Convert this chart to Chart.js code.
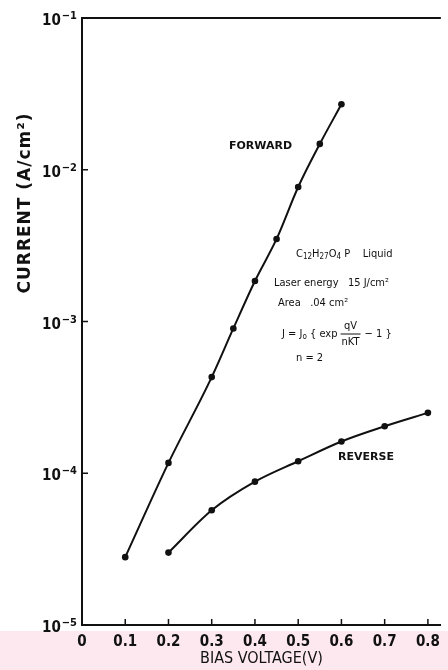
<!DOCTYPE html>
<html>
<head>
<meta charset="utf-8">
<script src="https://cdn.jsdelivr.net/npm/chart.js@4/dist/chart.umd.min.js"></script>
<style>
  html, body { margin: 0; padding: 0; background: #ffffff; }
  #wrap { position: relative; width: 448px; height: 670px; }
  canvas { display: block; }
</style>
</head>
<body>
<div id="wrap"><canvas id="iv" width="448" height="670"></canvas></div>
<script>
// Forward-bias branch: voltage (V) and current density (A/cm^2)
const voltageForward = [0.1, 0.2, 0.3, 0.35, 0.4, 0.45, 0.5, 0.55, 0.6];
const currentForward = [2.8e-5, 1.17e-4, 4.3e-4, 9.0e-4, 1.85e-3, 3.5e-3, 7.7e-3, 1.48e-2, 2.7e-2];

// Reverse-bias branch
const voltageReverse = [0.2, 0.3, 0.4, 0.5, 0.6, 0.7, 0.8];
const currentReverse = [3.0e-5, 5.7e-5, 8.8e-5, 1.2e-4, 1.62e-4, 2.04e-4, 2.5e-4];

// Axis ticks
const voltageTicks = [0, 0.1, 0.2, 0.3, 0.4, 0.5, 0.6, 0.7, 0.8];
const voltageTickLabels = ['0', '0.1', '0.2', '0.3', '0.4', '0.5', '0.6', '0.7', '0.8'];
const currentTicks = [1e-5, 1e-4, 1e-3, 1e-2, 1e-1];
const currentTickExponents = ['-5', '-4', '-3', '-2', '-1'];

const pairs = (xs, ys) => xs.map((x, i) => ({ x: x, y: ys[i] }));

const INK = '#111111';
const LABEL_FONT = "'DejaVu Sans Condensed', 'Liberation Sans Narrow', 'DejaVu Sans', sans-serif";

// Pale band under the plot, frame line, inward ticks, power-of-ten labels, y title
const framePlugin = {
  id: 'frame',
  beforeDraw(chart) {
    const { ctx, width, height } = chart;
    ctx.save();
    ctx.fillStyle = '#fce8ee';
    ctx.fillRect(0, 631, width, height - 631);
    ctx.restore();
  },
  afterDraw(chart) {
    const { ctx, chartArea } = chart;
    const xs = chart.scales.x, ys = chart.scales.y;
    ctx.save();
    ctx.strokeStyle = INK;
    ctx.lineWidth = 2;
    ctx.beginPath();
    ctx.moveTo(chartArea.left - 1, chartArea.top);
    ctx.lineTo(chartArea.right, chartArea.top);
    ctx.stroke();

    ctx.lineWidth = 1.5;
    voltageTicks.forEach(v => {
      if (v === 0) return;
      const px = xs.getPixelForValue(v);
      ctx.beginPath();
      ctx.moveTo(px, chartArea.bottom);
      ctx.lineTo(px, chartArea.bottom - 6);
      ctx.stroke();
    });
    currentTicks.forEach((v, i) => {
      const py = ys.getPixelForValue(v);
      ctx.beginPath();
      ctx.moveTo(chartArea.left, py);
      ctx.lineTo(chartArea.left + 6, py);
      ctx.stroke();

      // "10" with raised exponent, right-aligned against the axis
      ctx.fillStyle = INK;
      ctx.textBaseline = 'alphabetic';
      ctx.textAlign = 'right';
      ctx.font = "bold 11px " + LABEL_FONT;
      const exp = currentTickExponents[i].replace('-', '\u2212');
      const ew = ctx.measureText(exp).width;
      const right = chartArea.left - 5;
      ctx.fillText(exp, right, py + 1);
      ctx.font = "bold 15px " + LABEL_FONT;
      ctx.fillText('10', right - ew - 1, py + 7);
    });

    ctx.fillStyle = INK;
    ctx.translate(26, 203);
    ctx.rotate(-Math.PI / 2);
    ctx.font = "bold 17px 'DejaVu Sans', sans-serif";
    ctx.letterSpacing = '1px';
    ctx.textAlign = 'center';
    ctx.textBaseline = 'middle';
    ctx.fillText('CURRENT (A/cm\u00B2)', 0, 0);
    ctx.restore();
  }
};

// Curve labels and the sample / fit description
const notesPlugin = {
  id: 'notes',
  afterDatasetsDraw(chart) {
    const { ctx } = chart;
    ctx.save();
    ctx.fillStyle = INK;
    ctx.textBaseline = 'middle';
    ctx.textAlign = 'left';

    ctx.font = "bold 11px 'DejaVu Sans', sans-serif";
    ctx.fillText('FORWARD', 229, 146);
    ctx.fillText('REVERSE', 338, 457);

    const f = "11px " + LABEL_FONT;
    const sub = "8px " + LABEL_FONT;
    let x = 296, y = 254;
    const part = (t, font, dy) => {
      ctx.font = font;
      ctx.fillText(t, x, y + (dy || 0));
      x += ctx.measureText(t).width;
    };
    part('C', f); part('12', sub, 3); part('H', f); part('27', sub, 3);
    part('O', f); part('4', sub, 3); part(' P    Liquid', f);

    ctx.font = f;
    ctx.fillText('Laser energy   15 J/cm\u00B2', 274, 283);
    ctx.fillText('Area   .04 cm\u00B2', 278, 303);

    // J = J0 { exp qV/nKT - 1 }
    x = 282; y = 334;
    part('J = J', f); part('o', sub, 3); part(' { exp ', f);
    ctx.font = f;
    const fx = x + 1;
    const fw = ctx.measureText('nKT').width;
    ctx.textAlign = 'center';
    ctx.fillText('qV', fx + fw / 2, y - 8);
    ctx.fillText('nKT', fx + fw / 2, y + 8);
    ctx.lineWidth = 1;
    ctx.strokeStyle = INK;
    ctx.beginPath();
    ctx.moveTo(fx - 1, y);
    ctx.lineTo(fx + fw + 1, y);
    ctx.stroke();
    ctx.textAlign = 'left';
    x = fx + fw + 5;
    part('\u2212 1 }', f);

    ctx.font = f;
    ctx.fillText('n = 2', 296, 358);
    ctx.restore();
  }
};

const lineStyle = {
  borderColor: INK,
  backgroundColor: INK,
  borderWidth: 2,
  pointRadius: 3.3,
  pointHoverRadius: 3.3,
  pointBackgroundColor: INK,
  pointBorderWidth: 0,
  cubicInterpolationMode: 'monotone',
  fill: false
};

new Chart(document.getElementById('iv'), {
  type: 'line',
  data: {
    datasets: [
      Object.assign({ label: 'Forward', data: pairs(voltageForward, currentForward) }, lineStyle),
      Object.assign({ label: 'Reverse', data: pairs(voltageReverse, currentReverse) }, lineStyle)
    ]
  },
  options: {
    responsive: false,
    animation: false,
    events: [],
    layout: { padding: { top: 18, right: 4, left: 0, bottom: 0 } },
    plugins: { legend: { display: false }, tooltip: { enabled: false } },
    scales: {
      x: {
        type: 'linear',
        min: 0,
        max: 0.83,
        afterBuildTicks(scale) { scale.ticks = voltageTicks.map(v => ({ value: v })); },
        afterFit(scale) { scale.height = 45; },
        grid: { display: false, drawTicks: false },
        border: { display: true, color: INK, width: 2 },
        ticks: {
          padding: 8,
          color: INK,
          font: { family: LABEL_FONT, size: 15, weight: 'bold' },
          maxRotation: 0,
          autoSkip: false,
          callback(value) {
            const i = voltageTicks.findIndex(t => Math.abs(t - value) < 1e-9);
            return i >= 0 ? voltageTickLabels[i] : '';
          }
        },
        title: {
          display: true,
          text: 'BIAS VOLTAGE(V)',
          color: INK,
          font: { family: LABEL_FONT, size: 16 },
          padding: { top: 0, bottom: 2 }
        }
      },
      y: {
        type: 'logarithmic',
        min: 1e-5,
        max: 1e-1,
        afterBuildTicks(scale) { scale.ticks = currentTicks.map(v => ({ value: v })); },
        afterFit(scale) { scale.width = 82; },
        grid: { display: false, drawTicks: false },
        border: { display: true, color: INK, width: 2 },
        ticks: { display: false }
      }
    }
  },
  plugins: [framePlugin, notesPlugin]
});
</script>
</body>
</html>
